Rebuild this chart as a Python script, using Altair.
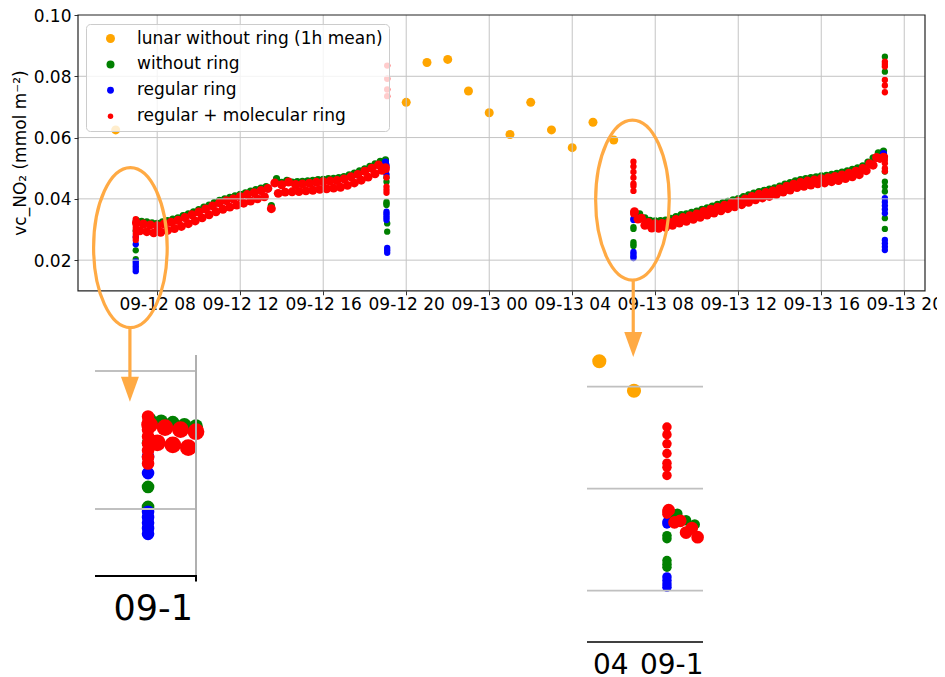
import altair as alt
import pandas as pd

FONT = "DejaVu Sans"
SERIES = ["lunar without ring (1h mean)", "without ring", "regular ring", "regular + molecular ring"]
COLORS = ["#FFA500", "#008000", "#0000FF", "#FF0000"]
LEGEND_SIZE = [81, 30, 30, 30]
# marker areas per panel: (lunar, burst, curve green/blue, curve red)
SIZES = {"main": (81, 40, 52, 80), "inset1": (200, 160, 190, 280), "inset2": (200, 90, 110, 160)}
ANNOT = "#FFAA44"
GRID = "#c4c4c4"

# ---------------- data ----------------
lunar_times = ["2023-09-12 06:00", "2023-09-12 20:00", "2023-09-12 21:00", "2023-09-12 22:00",
               "2023-09-12 23:00", "2023-09-13 00:00", "2023-09-13 01:00", "2023-09-13 02:00",
               "2023-09-13 03:00", "2023-09-13 04:00", "2023-09-13 05:00", "2023-09-13 06:00"]
lunar_values = [0.0625, 0.0715, 0.0845, 0.0855, 0.0752, 0.0681, 0.0610, 0.0715,
                0.0625, 0.0567, 0.0650, 0.0592]

DAY1 = "2023-09-12 07:00"
DAY2 = "2023-09-13 07:00"
STEP_MIN = {"without ring": 15, "regular ring": 20, "regular + molecular ring": 10}

# regular + molecular ring, every 10 min from 07:00 to 19:00
day1_red = [0.0322, 0.0296, 0.0318, 0.0293, 0.0315, 0.0289,
            0.0312, 0.0291, 0.0318, 0.0297, 0.0324, 0.0303,
            0.0330, 0.0310, 0.0339, 0.0319, 0.0348, 0.0328,
            0.0357, 0.0338, 0.0367, 0.0348, 0.0377, 0.0358,
            0.0387, 0.0366, 0.0394, 0.0373, 0.0400, 0.0380,
            0.0407, 0.0386, 0.0414, 0.0393, 0.0420, 0.0400,
            0.0427, 0.0407, 0.0434, 0.0368, 0.0452, 0.0418,
            0.0446, 0.0422, 0.0455, 0.0423, 0.0447, 0.0424,
            0.0449, 0.0426, 0.0451, 0.0428, 0.0454, 0.0431,
            0.0456, 0.0433, 0.0458, 0.0435, 0.0460, 0.0438,
            0.0465, 0.0444, 0.0472, 0.0452, 0.0480, 0.0461,
            0.0490, 0.0471, 0.0500, 0.0482, 0.0511, 0.0493,
            0.0502]
day2_red = [0.0358, 0.0334, 0.0337, 0.0314, 0.0323, 0.0305,
            0.0319, 0.0304, 0.0320, 0.0307, 0.0325, 0.0314,
            0.0333, 0.0321, 0.0339, 0.0327, 0.0345, 0.0333,
            0.0351, 0.0340, 0.0359, 0.0347, 0.0366, 0.0354,
            0.0373, 0.0361, 0.0379, 0.0368, 0.0386, 0.0374,
            0.0392, 0.0381, 0.0400, 0.0389, 0.0408, 0.0397,
            0.0415, 0.0403, 0.0421, 0.0408, 0.0426, 0.0414,
            0.0433, 0.0422, 0.0441, 0.0429, 0.0448, 0.0437,
            0.0454, 0.0441, 0.0458, 0.0445, 0.0462, 0.0449,
            0.0466, 0.0452, 0.0469, 0.0456, 0.0473, 0.0460,
            0.0478, 0.0466, 0.0484, 0.0472, 0.0490, 0.0479,
            0.0499, 0.0492, 0.0515, 0.0510, 0.0535, 0.0532,
            0.0536]
# without ring, every 15 min from 07:00 to 19:00
day1_green = [0.0330, 0.0327, 0.0325, 0.0322, 0.0320, 0.0325, 0.0329, 0.0334,
              0.0338, 0.0345, 0.0351, 0.0358, 0.0365, 0.0373, 0.0380, 0.0388,
              0.0395, 0.0400, 0.0405, 0.0410, 0.0415, 0.0420, 0.0425, 0.0430,
              0.0435, 0.0440, 0.0378, 0.0466, 0.0454, 0.0460, 0.0455, 0.0456,
              0.0457, 0.0459, 0.0460, 0.0463, 0.0464, 0.0466, 0.0467, 0.0469,
              0.0473, 0.0478, 0.0484, 0.0491, 0.0498, 0.0506, 0.0514, 0.0522,
              0.0527]
day2_green = [0.0350, 0.0351, 0.0338, 0.0330, 0.0328, 0.0329, 0.0331, 0.0336,
              0.0342, 0.0349, 0.0351, 0.0356, 0.0360, 0.0366, 0.0371, 0.0376,
              0.0382, 0.0387, 0.0392, 0.0397, 0.0401, 0.0407, 0.0413, 0.0419,
              0.0424, 0.0428, 0.0432, 0.0436, 0.0442, 0.0448, 0.0453, 0.0459,
              0.0463, 0.0466, 0.0469, 0.0472, 0.0475, 0.0477, 0.0480, 0.0483,
              0.0487, 0.0491, 0.0496, 0.0501, 0.0508, 0.0520, 0.0534, 0.0550,
              0.0556]
# regular ring, every 20 min from 07:00 to 19:00 (mostly hidden beneath the red band)
day1_blue = [0.0321, 0.0317, 0.0314, 0.0311, 0.0317, 0.0323, 0.0329, 0.0338, 0.0347,
             0.0356, 0.0366, 0.0376, 0.0386, 0.0393, 0.0399, 0.0406, 0.0413, 0.0419,
             0.0426, 0.0433, 0.0451, 0.0445, 0.0454, 0.0446, 0.0448, 0.0450, 0.0453,
             0.0455, 0.0457, 0.0459, 0.0464, 0.0471, 0.0479, 0.0489, 0.0499, 0.0510,
             0.0520]
day2_blue = [0.0357, 0.0336, 0.0322, 0.0318, 0.0319, 0.0324, 0.0332, 0.0338, 0.0344,
             0.0350, 0.0358, 0.0365, 0.0372, 0.0378, 0.0385, 0.0391, 0.0399, 0.0407,
             0.0414, 0.0420, 0.0425, 0.0432, 0.0440, 0.0447, 0.0453, 0.0457, 0.0461,
             0.0465, 0.0468, 0.0472, 0.0477, 0.0483, 0.0489, 0.0498, 0.0514, 0.0534,
             0.0548]

# vertical bursts at the start and end of each day: (time, series, values)
bursts = [
    ("2023-09-12 06:58", "without ring", [0.0296, 0.0232, 0.0203]),
    ("2023-09-12 06:58", "regular ring", [0.0276, 0.0252, 0.0196, 0.0188, 0.0180, 0.0172, 0.0164]),
    ("2023-09-12 06:58", "regular + molecular ring", [0.0334, 0.0325, 0.0315, 0.0305, 0.0295, 0.0285, 0.0275, 0.0266]),
    ("2023-09-12 19:03", "without ring", [0.0470, 0.0456, 0.0390, 0.0385, 0.0380]),
    ("2023-09-12 19:05", "without ring", [0.0320, 0.0293]),
    ("2023-09-12 19:03", "regular ring", [0.0510, 0.0480, 0.0358, 0.0352, 0.0345, 0.0338, 0.0331]),
    ("2023-09-12 19:05", "regular ring", [0.0240, 0.0232, 0.0224]),
    ("2023-09-12 19:03", "regular + molecular ring", [0.0495, 0.0470, 0.0440, 0.0430, 0.0420]),
    ("2023-09-12 19:05", "regular + molecular ring", [0.0835, 0.0792, 0.0757, 0.0735]),
    ("2023-09-13 06:57", "without ring", [0.0308, 0.0302, 0.0259, 0.0252, 0.0246]),
    ("2023-09-13 06:57", "regular ring", [0.0335, 0.0331, 0.0227, 0.0220, 0.0213, 0.0207]),
    ("2023-09-13 06:57", "regular + molecular ring", [0.0521, 0.0506, 0.0488, 0.0469, 0.0450, 0.0442, 0.0426, 0.0355, 0.0350]),
    ("2023-09-13 19:04", "without ring", [0.0864, 0.0815, 0.0489, 0.0456, 0.0440, 0.0424, 0.0337, 0.0302]),
    ("2023-09-13 19:04", "regular ring", [0.0402, 0.0390, 0.0378, 0.0366, 0.0353, 0.0266, 0.0255, 0.0244, 0.0233]),
    ("2023-09-13 19:04", "regular + molecular ring", [0.0848, 0.0840, 0.0832, 0.0788, 0.0770, 0.0748, 0.0538, 0.0527, 0.0516, 0.0500, 0.0490]),
]

x_ticks = ["2023-09-12 08:00", "2023-09-12 12:00", "2023-09-12 16:00", "2023-09-12 20:00",
           "2023-09-13 00:00", "2023-09-13 04:00", "2023-09-13 08:00", "2023-09-13 12:00",
           "2023-09-13 16:00", "2023-09-13 20:00"]
y_ticks = [0.02, 0.04, 0.06, 0.08, 0.10]
y_grid = [0.02, 0.04, 0.06, 0.08]

# ---------------- assemble ----------------
rows = []


def add(series, kind, times, values):
    for t, v in zip(times, values):
        rows.append({"t": pd.Timestamp(t), "v": v, "s": series, "kind": kind})


def regular_times(start, step, n):
    return list(pd.date_range(start, periods=n, freq=f"{step}min"))


add(SERIES[0], "lunar", lunar_times, lunar_values)
for name, d1, d2 in [(SERIES[1], day1_green, day2_green),
                     (SERIES[2], day1_blue, day2_blue),
                     (SERIES[3], day1_red, day2_red)]:
    step = STEP_MIN[name]
    add(name, "curve", regular_times(DAY1, step, len(d1)), d1)
    add(name, "curve", regular_times(DAY2, step, len(d2)), d2)
    for t, s, vals in bursts:
        if s == name:
            add(name, "burst", [t] * len(vals), vals)

df = pd.DataFrame(rows)
df["ts"] = df["t"].dt.strftime("%Y-%m-%dT%H:%M:%S")
df["c"] = df["s"].map(dict(zip(SERIES, COLORS)))
df["o"] = df["s"].map({s: i for i, s in enumerate(SERIES)})


def sized(frame_, panel):
    lunar, burst, curve, curve_red = SIZES[panel]
    out = frame_.copy()

    def pick(r):
        if r["kind"] == "lunar":
            return lunar
        if r["kind"] == "burst":
            return burst
        return curve_red if r["s"] == SERIES[3] else curve
    out["sz"] = out.apply(pick, axis=1)
    return out[["ts", "v", "c", "sz", "o"]]


def dt(s):
    ts = pd.Timestamp(s)
    return alt.DateTime(year=ts.year, month=ts.month, date=ts.day,
                        hours=ts.hour, minutes=ts.minute, seconds=ts.second)


def window(lo, hi, vlo, vhi, panel):
    m = (df["t"] >= pd.Timestamp(lo)) & (df["t"] <= pd.Timestamp(hi)) & (df["v"] >= vlo) & (df["v"] <= vhi)
    return sized(df[m], panel)


W, H = 929, 669

# ---------------- main panel ----------------
X_LO, X_HI = "2023-09-12 04:11", "2023-09-13 21:00"
Y_LO, Y_HI = 0.01, 0.10
MX = alt.Scale(domain=[dt(X_LO), dt(X_HI)], range=[70, 917])
MY = alt.Scale(domain=[Y_LO, Y_HI], range=[282.8, 7])

x_axis = alt.Axis(values=[dt(t) for t in x_ticks], format="%m-%d %H", formatType="time",
                  labelFontSize=17, labelFont=FONT, labelColor="black", tickSize=4,
                  tickColor="#333333", domain=False, grid=False, labelOverlap=False,
                  labelFlush=False, labelPadding=2, title=None, offset=-(H - 282.8))
y_axis = alt.Axis(values=y_ticks, format=".2f", labelFontSize=17, labelFont=FONT,
                  labelColor="black", tickSize=4, tickColor="#333333", domain=False,
                  grid=False, labelPadding=3, labelFlush=False, labelOffset=1, offset=-70,
                  title="vc_NO₂ (mmol m⁻²)", titleFontSize=17, titleFont=FONT,
                  titleFontWeight="normal", titleColor="black", titleX=-58, titleY=144.5,
                  titleBaseline="middle")
leg = alt.Legend(title=None, orient="none", legendX=78, legendY=16, direction="vertical",
                 labelFontSize=17, labelFont=FONT, labelColor="black", labelLimit=400,
                 fillColor="rgba(255,255,255,0.8)", strokeColor="#cccccc", cornerRadius=4,
                 padding=6, rowPadding=7.9, symbolOffset=10, labelOffset=18,
                 symbolType="circle", symbolStrokeWidth=0, symbolOpacity=1, zindex=1)

# lunar points carry the axes and the legend (legend lists all four series)
lunar_df = df[df["kind"] == "lunar"][["ts", "v", "s"]]
main_lunar = alt.Chart(lunar_df).mark_circle(opacity=1).encode(
    x=alt.X("ts:T", scale=MX, axis=x_axis),
    y=alt.Y("v:Q", scale=MY, axis=y_axis),
    color=alt.Color("s:N", scale=alt.Scale(domain=SERIES, range=COLORS), legend=leg),
    size=alt.Size("s:N", scale=alt.Scale(domain=SERIES, range=LEGEND_SIZE), legend=leg),
)
main_other = alt.Chart(sized(df[df["kind"] != "lunar"], "main")).mark_circle(opacity=1).encode(
    x=alt.X("ts:T", scale=MX, axis=None),
    y=alt.Y("v:Q", scale=MY, axis=None),
    color=alt.Color("c:N", scale=None), size=alt.Size("sz:Q", scale=None),
    order=alt.Order("o:Q"),
)

one = pd.DataFrame({"k": [0]})

vgrid = alt.Chart(pd.DataFrame({"ts": [pd.Timestamp(t).strftime("%Y-%m-%dT%H:%M:%S") for t in x_ticks]})).mark_rule(
    color=GRID, strokeWidth=1).encode(
    x=alt.X("ts:T", scale=MX, axis=None),
    y=alt.Y(datum=Y_LO, scale=MY, axis=None), y2=alt.Y2(datum=Y_HI))
hgrid = alt.Chart(pd.DataFrame({"v": y_grid})).mark_rule(color=GRID, strokeWidth=1).encode(
    y=alt.Y("v:Q", scale=MY, axis=None),
    x=alt.X(datum=dt(X_LO), type="temporal", scale=MX, axis=None), x2=alt.X2(datum=dt(X_HI)))
frame = alt.Chart(one).mark_rect(filled=False, stroke="#222222", strokeWidth=1.2).encode(
    x=alt.X(datum=dt(X_LO), type="temporal", scale=MX, axis=None), x2=alt.X2(datum=dt(X_HI)),
    y=alt.Y(datum=Y_LO, scale=MY, axis=None), y2=alt.Y2(datum=Y_HI))

# annotation ellipses and arrows (in main-panel data units)
k, a = 0.5523, 0.46
ELLIPSE = (f"M0,-1 C{k*a:.4f},-1 {a},{-k} {a},0 C{a},{k} {k*a:.4f},1 0,1 "
           f"C{-k*a:.4f},1 {-a},{k} {-a},0 C{-a},{-k} {-k*a:.4f},-1 0,-1 Z")
TRIANGLE = "M-0.72,-1 L0.72,-1 L0,1 Z"

ell_df = pd.DataFrame({"ts": ["2023-09-12T06:42:30", "2023-09-13T06:54:06"], "v": [0.02412, 0.03962]})
ellipses = alt.Chart(ell_df).mark_point(shape=ELLIPSE, size=160 ** 2, filled=False, stroke=ANNOT,
                                        strokeWidth=3.2, opacity=1).encode(
    x=alt.X("ts:T", scale=MX, axis=None), y=alt.Y("v:Q", scale=MY, axis=None))

arrow_df = pd.DataFrame({"ts": ["2023-09-12T06:41:06", "2023-09-13T06:56:24"],
                         "v0": [-0.00248, 0.01319], "v1": [-0.01847, -0.00411],
                         "vh": [-0.02213, -0.00754]})
arrow_lines = alt.Chart(arrow_df).mark_rule(color=ANNOT, strokeWidth=3.2).encode(
    x=alt.X("ts:T", scale=MX, axis=None),
    y=alt.Y("v0:Q", scale=MY, axis=None), y2=alt.Y2("v1:Q"))
arrow_heads = alt.Chart(arrow_df).mark_point(shape=TRIANGLE, size=625, filled=True, color=ANNOT,
                                             opacity=1, strokeWidth=0).encode(
    x=alt.X("ts:T", scale=MX, axis=None), y=alt.Y("vh:Q", scale=MY, axis=None))

# ---------------- inset 1 (start of 09-12) ----------------
I1_T = ("2023-09-12 05:49:24", "2023-09-12 08:01:18")
I1_V = (0.01029, 0.04232)
I1X = alt.Scale(domain=[dt(I1_T[0]), dt(I1_T[1])], range=[87, 189])
I1Y = alt.Scale(domain=list(I1_V), range=[568, 347])
i1_data = window(I1_T[0], I1_T[1], I1_V[0], I1_V[1], "inset1")

i1_points = alt.Chart(i1_data).mark_circle(opacity=1).encode(
    x=alt.X("ts:T", scale=I1X, axis=None), y=alt.Y("v:Q", scale=I1Y, axis=None),
    color=alt.Color("c:N", scale=None), size=alt.Size("sz:Q", scale=None), order=alt.Order("o:Q"))
i1_hgrid = alt.Chart(pd.DataFrame({"v": [0.02, 0.04]})).mark_rule(color="#c0c0c0", strokeWidth=2).encode(
    y=alt.Y("v:Q", scale=I1Y, axis=None),
    x=alt.X(datum=dt(I1_T[0]), type="temporal", scale=I1X, axis=None), x2=alt.X2(datum=dt(I1_T[1])))
i1_vgrid = alt.Chart(pd.DataFrame({"ts": ["2023-09-12T08:00:00"]})).mark_rule(color="#b0b0b0", strokeWidth=2).encode(
    x=alt.X("ts:T", scale=I1X, axis=None),
    y=alt.Y(datum=I1_V[0], scale=I1Y, axis=None), y2=alt.Y2(datum=I1_V[1]))
i1_base = alt.Chart(one).mark_rule(color="black", strokeWidth=2).encode(
    y=alt.Y(datum=I1_V[0], scale=I1Y, axis=None),
    x=alt.X(datum=dt(I1_T[0]), type="temporal", scale=I1X, axis=None), x2=alt.X2(datum=dt(I1_T[1])))
i1_tick = alt.Chart(pd.DataFrame({"ts": ["2023-09-12T08:00:00"]})).mark_rule(color="black", strokeWidth=2).encode(
    x=alt.X("ts:T", scale=I1X, axis=None),
    y=alt.Y(datum=I1_V[0], scale=I1Y, axis=None), y2=alt.Y2(datum=I1_V[0] - 0.0008))
i1_label = alt.Chart(pd.DataFrame({"ts": ["2023-09-12T08:00:00"], "label": ["09-1"], "v": [0.00391]})).mark_text(
    font=FONT, fontSize=35, align="right", baseline="alphabetic", dx=-3, color="black").encode(
    x=alt.X("ts:T", scale=I1X, axis=None), y=alt.Y("v:Q", scale=I1Y, axis=None), text="label:N")

# ---------------- inset 2 (start of 09-13) ----------------
I2_T = ("2023-09-13 04:38:44", "2023-09-13 07:59:19")
I2_V = (0.00994, 0.06916)
I2X = alt.Scale(domain=[dt(I2_T[0]), dt(I2_T[1])], range=[579, 695])
I2Y = alt.Scale(domain=list(I2_V), range=[634, 332])
i2_data = window(I2_T[0], I2_T[1], I2_V[0], I2_V[1], "inset2")

i2_points = alt.Chart(i2_data).mark_circle(opacity=1).encode(
    x=alt.X("ts:T", scale=I2X, axis=None), y=alt.Y("v:Q", scale=I2Y, axis=None),
    color=alt.Color("c:N", scale=None), size=alt.Size("sz:Q", scale=None), order=alt.Order("o:Q"))
i2_hgrid = alt.Chart(pd.DataFrame({"v": [0.02, 0.04, 0.06]})).mark_rule(color="#c0c0c0", strokeWidth=1.7).encode(
    y=alt.Y("v:Q", scale=I2Y, axis=None),
    x=alt.X(datum=dt(I2_T[0]), type="temporal", scale=I2X, axis=None), x2=alt.X2(datum=dt(I2_T[1])))
i2_base = alt.Chart(one).mark_rule(color="black", strokeWidth=1.7).encode(
    y=alt.Y(datum=I2_V[0], scale=I2Y, axis=None),
    x=alt.X(datum=dt(I2_T[0]), type="temporal", scale=I2X, axis=None), x2=alt.X2(datum=dt(I2_T[1])))
i2_label = alt.Chart(pd.DataFrame({"ts": ["2023-09-13T04:49:06", "2023-09-13T06:10:22"],
                                   "label": ["04", "09-1"], "v": [0.00375, 0.00375]})).mark_text(
    font=FONT, fontSize=28, align="left", baseline="alphabetic", color="black").encode(
    x=alt.X("ts:T", scale=I2X, axis=None), y=alt.Y("v:Q", scale=I2Y, axis=None), text="label:N")

layers = [main_lunar, main_other, vgrid, hgrid, frame, ellipses,
          i1_points, i1_hgrid, i1_vgrid, i1_base, i1_tick, i1_label,
          i2_points, i2_hgrid, i2_base, i2_label,
          arrow_lines, arrow_heads]

chart = alt.layer(*layers).resolve_scale(x="independent", y="independent").properties(
    width=W, height=H, padding=0, autosize=alt.AutoSizeParams(type="none")
).configure_view(stroke=None)

chart.save("out.html", embed_options={"renderer": "svg", "actions": False})
